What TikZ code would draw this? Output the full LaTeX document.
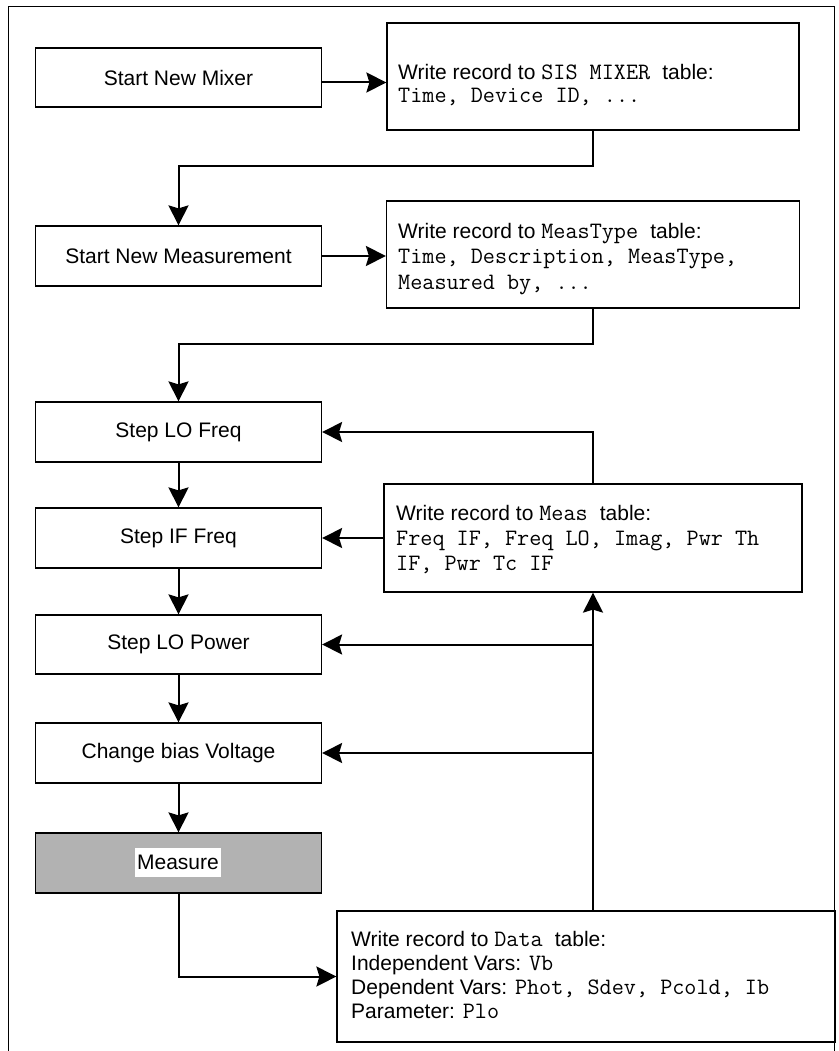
\documentclass[tikz,border=0pt]{standalone}
\usepackage{fontspec}
\setmainfont{Liberation Sans}
% field and table names are set in a typewriter face
\newcommand\code[1]{{\ttfamily\fontsize{23.5}{25}\selectfont #1}}
\usetikzlibrary{arrows.meta}
\definecolor{stipple}{gray}{0.70}
\begin{document}
\begin{tikzpicture}[x=1pt,y=-1pt,
  every node/.style={font=\fontsize{21}{25}\selectfont},
  procbox/.style={draw=black, line width=1.2pt, minimum width=286pt,
    minimum height=60pt, inner sep=0pt},
  recbox/.style={draw=black, line width=1.2pt, inner sep=0pt},
  txt/.style={anchor=base west, inner sep=0pt},
  flow/.style={line width=2pt, -{Stealth[length=20pt,width=20pt,inset=3pt]}},
  frame/.style={line width=1pt}]

\useasboundingbox (0,0) rectangle (838,1051);

% outer frame
\draw[frame] (8,1051) -- (8,7) -- (834,7) -- (834,1051);

% process steps (left column)
\node[procbox, minimum height=59pt] (smix) at (178.5,77.5) {Start New Mixer};
\node[procbox] (snm)  at (178.5,256)   {Start New Measurement};
\node[procbox] (slf)  at (178.5,432)   {Step LO Freq};
\node[procbox] (sif)  at (178.5,538)   {Step IF Freq};
\node[procbox, minimum height=59pt] (slp) at (178.5,644.5) {Step LO Power};
\node[procbox] (cbv)  at (178.5,753)   {Change bias Voltage};
\node[procbox, fill=stipple] (meas) at (178.5,863) {};
\node[fill=white, inner sep=0pt, minimum width=86pt, minimum height=29pt]
  (measlbl) at (178,862.5) {Measure};

% database records (right column)
\node[recbox, minimum width=412pt, minimum height=107pt] (sis) at (593,76.5) {};
\node[recbox, minimum width=413pt, minimum height=107pt] (mt)  at (593,254.5) {};
\node[recbox, minimum width=418pt, minimum height=108pt] (mb)  at (593,538) {};
\node[recbox, minimum width=498pt, minimum height=131pt] (data) at (586,976.5) {};

% record texts
\node[txt] (sis1) at (398,80)  {Write record to \code{SIS MIXER }table:};
\node[txt] (sis2) at (398,103) {\code{Time, Device ID, ...}};

\node[txt] (mt1) at (398,238) {Write record to \code{MeasType }table:};
\node[txt] (mt2) at (398,263) {\code{Time, Description, MeasType,}};
\node[txt] (mt3) at (398,289) {\code{Measured by, ...}};

\node[txt] (mb1) at (396,520) {Write record to \code{Meas }table:};
\node[txt] (mb2) at (396,545) {\code{Freq IF, Freq LO, Imag, Pwr Th}};
\node[txt] (mb3) at (396,570) {\code{IF, Pwr Tc IF}};

\node[txt] (d1) at (351,946)  {Write record to \code{Data }table:};
\node[txt] (d2) at (351,970)  {Independent Vars: \code{Vb}};
\node[txt] (d3) at (351,994)  {Dependent Vars: \code{Phot, Sdev, Pcold, Ib}};
\node[txt] (d4) at (351,1018) {Parameter: \code{Plo}};

% bends of the downward connectors
\coordinate (k1) at (593,166);
\coordinate (k2) at (593,344);

% connectors
\draw[flow] ([yshift=-5pt]smix.east) -- ([yshift=-5pt]smix.east -| sis.west);
\draw[flow] (sis.south) -- (k1) -| (snm.north);
\draw[flow] (snm.east) -- (snm.east -| mt.west);
\draw[flow] (mt.south) -- (k2) -| (slf.north);

\draw[flow] (slf.south) -- (sif.north);
\draw[flow] (sif.south) -- (slp.north);
\draw[flow] (slp.south) -- (cbv.north);
\draw[flow] (cbv.south) -- (meas.north);
\draw[flow] (meas.south) |- (data.west);

% feedback from the record boxes
\draw[flow] (data.north -| mb.south) -- (mb.south);
\draw[flow] (slp.east -| mb.south) -- (slp.east);
\draw[flow] (cbv.east -| mb.south) -- (cbv.east);
\draw[flow] (mb.west) -- (sif.east);
\draw[flow] (mb.north) |- (slf.east);
\end{tikzpicture}
\end{document}
